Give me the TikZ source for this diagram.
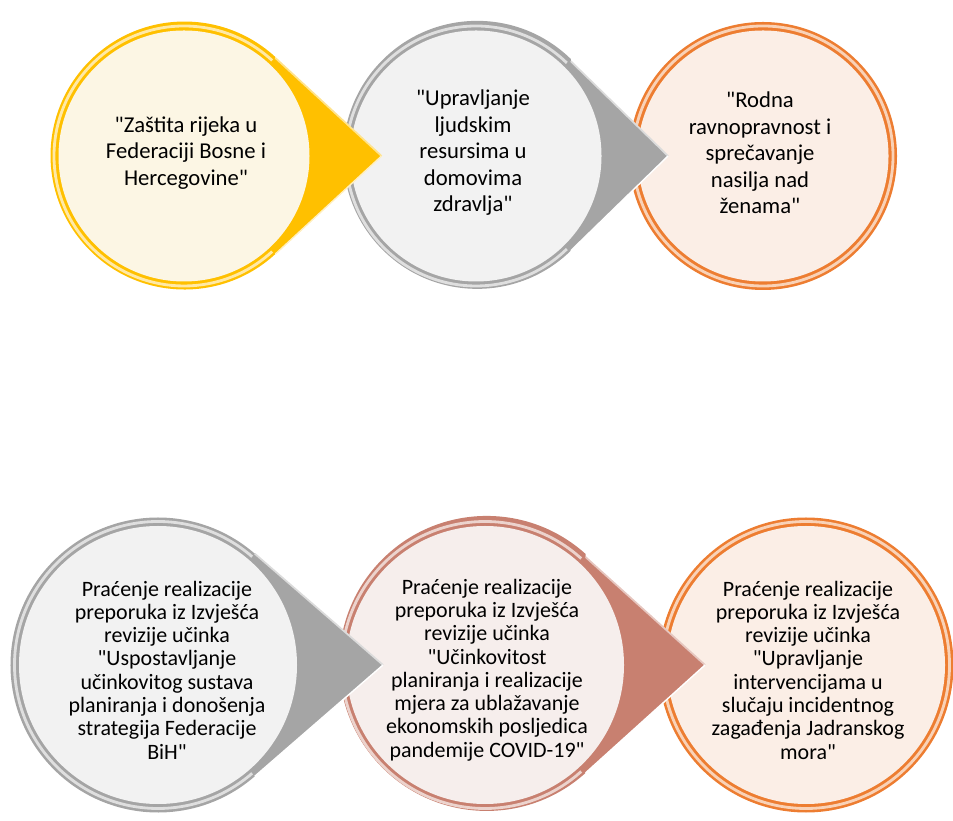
\documentclass[tikz,border=0pt]{standalone}
\usepackage{fontspec}
\setmainfont{Carlito}[Ligatures=TeXOff]
\usetikzlibrary{calc}

\definecolor{zuta}{HTML}{FFC000}
\definecolor{zutafill}{HTML}{FCF6E4}
\definecolor{siva}{HTML}{A5A5A5}
\definecolor{sivafill}{HTML}{F2F2F2}
\definecolor{narandzasta}{HTML}{ED7D31}
\definecolor{narandzastafill}{HTML}{FBEEE6}
\definecolor{losos}{HTML}{C88070}
\definecolor{lososfill}{HTML}{F6EEEC}

\begin{document}
\begin{tikzpicture}
	\tikzset{
		krug/.style = {shape=circle, inner sep=0pt, outer sep=0pt},
		krug gore/.style = {krug, minimum size=5.36cm},
		krug dolje/.style = {krug, minimum size=5.9cm},
		sjaj/.style = {line width=1.6pt},
		tekst gore/.style = {align=center, font=\fontsize{12.9}{15.1}\selectfont},
		tekst dolje/.style = {align=center, font=\fontsize{12.5}{13.25}\selectfont}
		}
	\useasboundingbox (0,0) rectangle (19.06,16.4);

	% gornji red
	\path 	(3.68,13.28) node [name=zastita, krug gore] {}
			(9.52,13.28) node [name=upravljanje, krug gore] {}
			(15.26,13.28) node [name=rodna, krug gore] {};
	\coordinate (zastita tip) at ($(zastita.center)+(3.95,0)$);
	\coordinate (upravljanje tip) at ($(upravljanje.center)+(3.84,0)$);

	\fill[narandzasta] (rodna.center) circle (2.68);
	\draw[narandzasta!35, sjaj] (rodna.center) circle (2.6);
	\fill[narandzastafill] (rodna.center) circle (2.51);

	\fill[siva] (upravljanje.45.7) -- (upravljanje tip) -- (upravljanje.-45.7) arc[start angle=-45.7, end angle=-314.3, radius=2.68cm] -- cycle;
	\draw[siva!40, line width=1pt] (upravljanje.45.7) -- (upravljanje tip);
	\draw[white, line width=0.8pt] (upravljanje.-45.7) -- (upravljanje tip);
	\draw[siva!35, sjaj] ($(upravljanje.center)+(45.7:2.6)$) arc[start angle=45.7, end angle=314.3, radius=2.6cm];
	\fill[sivafill] (upravljanje.center) circle (2.51);

	\fill[zuta] (zastita.47.3) -- (zastita tip) -- (zastita.-47.3) arc[start angle=-47.3, end angle=-312.7, radius=2.68cm] -- cycle;
	\draw[zuta!45, line width=1pt] (zastita.47.3) -- (zastita tip);
	\draw[zuta!25, line width=0.8pt] (zastita.-47.3) -- (zastita tip);
	\draw[zuta!35, sjaj] ($(zastita.center)+(47.3:2.6)$) arc[start angle=47.3, end angle=312.7, radius=2.6cm];
	\fill[zutafill] (zastita.center) circle (2.51);

	\path (3.72,13.34) node [name=zastita text, tekst gore] {"Zaštita rijeka u\\Federaciji Bosne i\\Hercegovine"};
	\path (9.46,13.34) node [name=upravljanje text, tekst gore] {"Upravljanje\\ljudskim\\resursima u\\domovima\\zdravlja"};
	\path (15.2,13.34) node [name=rodna text, tekst gore] {"Rodna\\ravnopravnost i\\sprečavanje\\nasilja nad\\ženama"};

	% donji red
	\path 	(3.16,3.1) node [name=strategija, krug dolje] {}
			(9.7,3.1) node [name=covid, krug dolje] {}
			(16.12,3.1) node [name=jadran, krug dolje] {};
	\coordinate (strategija tip) at ($(strategija.center)+(4.5,0)$);
	\coordinate (covid tip) at ($(covid.center)+(4.4,0)$);

	\fill[narandzasta] (jadran.center) circle (2.95);
	\draw[narandzasta!35, sjaj] (jadran.center) circle (2.87);
	\fill[narandzastafill] (jadran.center) circle (2.78);

	\fill[losos] (covid.47.9) -- (covid tip) -- (covid.-47.9) arc[start angle=-47.9, end angle=-312.1, radius=2.95cm] -- cycle;
	\draw[losos!45, line width=1pt] (covid.47.9) -- (covid tip);
	\draw[white, line width=0.8pt] (covid.-47.9) -- (covid tip);
	\draw[losos!35, sjaj] ($(covid.center)+(47.9:2.87)$) arc[start angle=47.9, end angle=312.1, radius=2.87cm];
	\fill[lososfill] (covid.center) circle (2.78);

	\fill[siva] (strategija.49) -- (strategija tip) -- (strategija.-49) arc[start angle=-49, end angle=-311, radius=2.95cm] -- cycle;
	\draw[siva!40, line width=1pt] (strategija.49) -- (strategija tip);
	\draw[white, line width=0.8pt] (strategija.-49) -- (strategija tip);
	\draw[siva!35, sjaj] ($(strategija.center)+(49:2.87)$) arc[start angle=49, end angle=311, radius=2.87cm];
	\fill[sivafill] (strategija.center) circle (2.78);

	\path (3.34,3.0) node [name=strategija text, tekst dolje] {Praćenje realizacije\\preporuka iz Izvješća\\revizije učinka\\"Uspostavljanje\\učinkovitog sustava\\planiranja i donošenja\\strategija Federacije\\BiH"};
	\path (9.74,3.0) node [name=covid text, tekst dolje] {Praćenje realizacije\\preporuka iz Izvješća\\revizije učinka\\"Učinkovitost\\planiranja i realizacije\\mjera za ublažavanje\\ekonomskih posljedica\\pandemije COVID-19"};
	\path (16.16,3.0) node [name=jadran text, tekst dolje] {Praćenje realizacije\\preporuka iz Izvješća\\revizije učinka\\"Upravljanje\\intervencijama u\\slučaju incidentnog\\zagađenja Jadranskog\\mora"};

\end{tikzpicture}
\end{document}
